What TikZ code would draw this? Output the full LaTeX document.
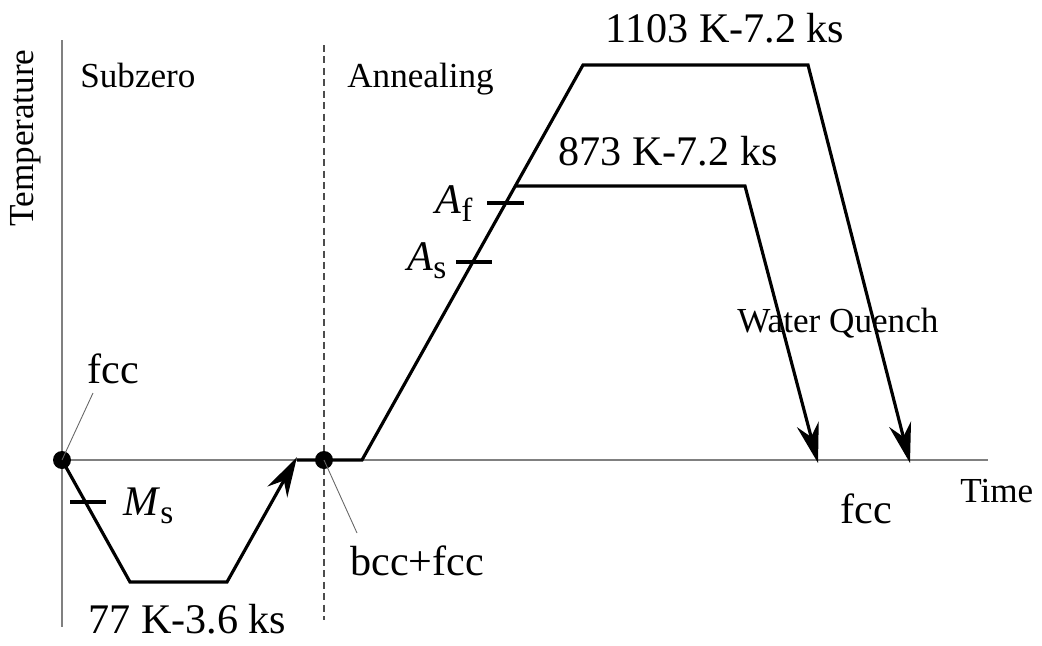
\documentclass[tikz,border=0pt]{standalone}
\usepackage{fontspec}
\setmainfont{Liberation Serif}
\usetikzlibrary{arrows.meta, positioning}

\newcommand{\lowsub}[1]{\raisebox{-5pt}{\fontsize{19}{19}\selectfont #1}}

\begin{document}
\begin{tikzpicture}[
        x=0.02cm, y=-0.02cm,
        axis/.style={draw=black!50, line width=0.9pt},
        route/.style={line width=1.8pt, line join=miter},
        quench/.style={route, -{Stealth[length=0.8cm, width=0.45cm, inset=0.26cm]}},
        tickmark/.style={line width=1.8pt},
        dot/.style={circle, fill=black, inner sep=0pt, minimum size=0.36cm},
        lead/.style={draw=black!60, line width=0.5pt},
        big/.style={font=\fontsize{24}{28}\selectfont, inner sep=0pt},
        small/.style={font=\fontsize{20}{24}\selectfont, inner sep=0pt}
    ]
    \useasboundingbox (0,0) rectangle (1042,646);

    % Axes
    \coordinate (ytop) at (62,40);
    \coordinate (ybot) at (62,627);
    \coordinate (xend) at (988,460);
    \coordinate (dtop) at (324,45);
    \coordinate (dbot) at (324,620);
    \draw[axis] (ytop) -- (ybot);
    \draw[axis] (62,460) -- (xend);
    \draw[black!70, line width=0.6pt, dash pattern=on 4pt off 2.5pt] (dtop) -- (dbot);

    % Nodes
    \node[dot] (start) at (62,460) {};
    \node[dot] (mid) at (324,460) {};
    \node[small, rotate=90, anchor=base] (temp) at (33,138) {Temperature};
    \node[small, anchor=base west] (subzero) at (80,87) {Subzero};
    \node[small, anchor=base west] (anneal) at (347,87) {Annealing};
    \node[big, anchor=base] (high) at (725,42) {1103 K-7.2 ks};
    \node[big, anchor=base] (low) at (668,165) {873 K-7.2 ks};
    \node[small, anchor=base west] (water) at (737,332) {Water Quench};
    \node[small, anchor=base west] (time) at (960,502) {Time};
    \node[big, anchor=base west] (fccend) at (840,523) {fcc};
    \node[big, anchor=base west] (mixed) at (350,575) {bcc+fcc};
    \node[big, anchor=base west] (fccstart) at (87,383) {fcc};
    \node[big, anchor=base west] (cold) at (88,633) {77 K-3.6 ks};
    \node[big, anchor=base west] (ms) at (123,515) {\textit{M}\lowsub{s}};
    \node[big, anchor=base west] (af) at (435,213) {\textit{A}\lowsub{f}};
    \node[big, anchor=base west] (as) at (407,270) {\textit{A}\lowsub{s}};

    % Path corners
    \coordinate (c1) at (130,582);
    \coordinate (c2) at (227,582);
    \coordinate (c3) at (297,457);
    \coordinate (c4) at (297,460);
    \coordinate (c5) at (362,460);
    \coordinate (c6) at (583,65);
    \coordinate (c7) at (808,65);
    \coordinate (c8) at (910,463);
    \coordinate (c9) at (515,186);
    \coordinate (c10) at (745,186);
    \coordinate (c11) at (818,463);

    % Connections
    \draw[quench] (start.center) -- (c1) -- (c2) -- (c3);
    \draw[quench] (c4) -- (c5) -- (c6) -- (c7) -- (c8);
    \draw[quench] (c9) -- (c10) -- (c11);
    \draw[lead] (start.center) -- (93,393);
    \draw[lead] (mid.center) -- (357,533);

    % Ticks
    \draw[tickmark] (70,502) -- (106,502);
    \draw[tickmark] (487,203) -- (524,203);
    \draw[tickmark] (456,262) -- (492,262);
\end{tikzpicture}
\end{document}
